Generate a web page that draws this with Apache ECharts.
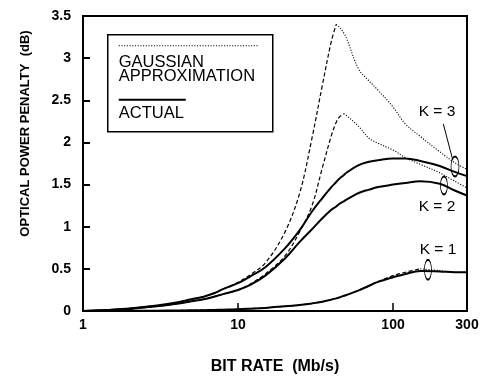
<!DOCTYPE html>
<html>
<head>
<meta charset="utf-8">
<script src="https://cdn.jsdelivr.net/npm/echarts@6/dist/echarts.min.js"></script>
<style>
  html, body { margin: 0; padding: 0; background: #fff; }
  #chart { width: 487px; height: 380px; }
</style>
</head>
<body>
<div id="chart"></div>
<script>
// Bit rate samples (Mb/s), shared by every curve
const bitRate = [1, 1.5, 2, 3, 4, 5, 6, 7, 8, 10, 12, 15, 20, 25, 30, 35, 40, 43, 45, 48, 50, 60, 70, 80, 100, 120, 150, 200, 250, 300];

// Optical power penalty (dB), Gaussian approximation
const gaussK3 = [0, 0.015, 0.03, 0.065, 0.10, 0.14, 0.17, 0.21, 0.26, 0.34, 0.43, 0.57, 0.93, 1.40, 2.05, 2.68, 3.20, 3.40, 3.37, 3.30, 3.24, 2.87, 2.73, 2.62, 2.42, 2.22, 2.07, 1.89, 1.76, 1.68];
const gaussK2 = [0, 0.012, 0.025, 0.055, 0.085, 0.115, 0.14, 0.17, 0.20, 0.25, 0.32, 0.44, 0.65, 0.94, 1.25, 1.70, 2.08, 2.24, 2.30, 2.34, 2.32, 2.19, 2.05, 1.99, 1.91, 1.82, 1.74, 1.64, 1.54, 1.46];
const gaussK1 = [0, 0.001, 0.002, 0.004, 0.006, 0.008, 0.010, 0.012, 0.015, 0.020, 0.027, 0.037, 0.055, 0.072, 0.09, 0.11, 0.135, 0.15, 0.16, 0.18, 0.19, 0.245, 0.30, 0.35, 0.42, 0.46, 0.50, 0.48, 0.46, 0.46];

// Optical power penalty (dB), actual
const actualK3 = [0, 0.015, 0.03, 0.065, 0.10, 0.14, 0.17, 0.21, 0.26, 0.33, 0.41, 0.52, 0.74, 0.96, 1.18, 1.34, 1.47, 1.53, 1.57, 1.61, 1.64, 1.73, 1.77, 1.79, 1.81, 1.81, 1.78, 1.72, 1.65, 1.60];
const actualK2 = [0, 0.012, 0.025, 0.055, 0.085, 0.115, 0.14, 0.17, 0.20, 0.25, 0.31, 0.42, 0.62, 0.82, 0.97, 1.10, 1.20, 1.24, 1.27, 1.30, 1.32, 1.40, 1.44, 1.47, 1.50, 1.52, 1.54, 1.51, 1.43, 1.37];
const actualK1 = [0, 0.001, 0.002, 0.004, 0.006, 0.008, 0.010, 0.012, 0.015, 0.020, 0.027, 0.037, 0.055, 0.072, 0.09, 0.11, 0.135, 0.15, 0.16, 0.18, 0.19, 0.245, 0.30, 0.345, 0.40, 0.44, 0.475, 0.47, 0.46, 0.46];

// Axis ticks
const yTicks = [0, 0.5, 1, 1.5, 2, 2.5, 3, 3.5];
const xMin = 1, xMax = 300;

// Curve group annotations: [bit rate, penalty]
const groupLabels = [
  { text: 'K = 3', at: [192, 2.37] },
  { text: 'K = 2', at: [192, 1.233] },
  { text: 'K = 1', at: [195, 0.728] }
];
const groupRings = [
  { at: [251, 1.715], size: [8, 20] },
  { at: [213, 1.49], size: [7, 18] },
  { at: [168, 0.49], size: [7, 20] }
];
const k3Leader = [[211, 2.22], [243, 1.79]];

const BLACK = '#000';
const pairs = vals => bitRate.map((x, i) => [x, vals[i]]);

function actualSeries(vals) {
  return {
    type: 'line', data: pairs(vals), smooth: 0.4, showSymbol: false, silent: true,
    lineStyle: { color: BLACK, width: 2 }, z: 3
  };
}

// Gaussian curves: dashed on the rising side, dotted after the peak
function gaussSeries(vals) {
  const pts = pairs(vals);
  const peak = vals.indexOf(Math.max(...vals));
  return [
    { type: 'line', data: pts.slice(0, peak + 1), smooth: 0.35, showSymbol: false, silent: true,
      lineStyle: { color: BLACK, width: 1.2, type: [4, 2.5] }, z: 2 },
    { type: 'line', data: pts.slice(peak), smooth: 0.35, showSymbol: false, silent: true,
      lineStyle: { color: BLACK, width: 1.1, type: [1.1, 1.6] }, z: 2 }
  ];
}

const annotations = {
  type: 'line', data: [], silent: true, z: 4,
  markPoint: {
    silent: true,
    data: groupRings.map(r => ({
      coord: r.at, symbol: 'circle', symbolSize: r.size,
      itemStyle: { color: 'rgba(0,0,0,0)', borderColor: BLACK, borderWidth: 1.2 },
      label: { show: false }
    })).concat(groupLabels.map(l => ({
      coord: l.at, symbol: 'circle', symbolSize: 0,
      label: { show: true, position: 'inside', formatter: l.text, color: BLACK,
               fontFamily: 'Liberation Sans, Arial, sans-serif', fontSize: 15.5 }
    })))
  },
  markLine: {
    silent: true, symbol: 'none',
    lineStyle: { color: BLACK, width: 1, type: 'solid' },
    label: { show: false },
    data: [[{ coord: k3Leader[0] }, { coord: k3Leader[1] }]]
  }
};

const labelFont = { fontFamily: 'Liberation Sans, Arial, sans-serif', fontWeight: 'bold', color: BLACK };

const chart = echarts.init(document.getElementById('chart'), null, { renderer: 'canvas' });
chart.setOption({
  animation: false,
  backgroundColor: '#fff',
  grid: { left: 83, right: 20, top: 16, bottom: 66, show: true, borderColor: BLACK, borderWidth: 2, backgroundColor: 'rgba(0,0,0,0)' },
  xAxis: {
    type: 'log', logBase: 10, min: xMin, max: xMax,
    name: 'BIT RATE  (Mb/s)', nameLocation: 'middle', nameGap: 48,
    nameTextStyle: Object.assign({ fontSize: 16 }, labelFont),
    axisLine: { lineStyle: { color: BLACK, width: 2 } },
    axisTick: { inside: true, length: 8, lineStyle: { color: BLACK, width: 1.5 } },
    minorTick: { show: false },
    splitLine: { show: false },
    axisLabel: Object.assign({ fontSize: 14, margin: 7, showMinLabel: true, showMaxLabel: true,
      formatter: v => String(Math.round(v)) }, labelFont)
  },
  yAxis: {
    type: 'value', min: yTicks[0], max: yTicks[yTicks.length - 1], interval: yTicks[1] - yTicks[0],
    name: 'OPTICAL POWER PENALTY  (dB)', nameLocation: 'middle', nameGap: 51, nameRotate: 90,
    // left padding lifts the rotated title above the axis midpoint
    nameTextStyle: Object.assign({ fontSize: 13, padding: [0, 0, 0, 60] }, labelFont),
    axisLine: { show: true, lineStyle: { color: BLACK, width: 2 } },
    axisTick: { show: true, inside: true, length: 7, lineStyle: { color: BLACK, width: 2 } },
    splitLine: { show: false },
    axisLabel: Object.assign({ fontSize: 14, margin: 12, formatter: v => String(v) }, labelFont)
  },
  series: [
    ...gaussSeries(gaussK3), ...gaussSeries(gaussK2), ...gaussSeries(gaussK1),
    actualSeries(actualK3), actualSeries(actualK2), actualSeries(actualK1),
    annotations
  ],
  graphic: [{
    type: 'group', left: 107, top: 34, z: 10,
    children: [
      { type: 'rect', shape: { x: 0, y: 0, width: 165, height: 97 },
        style: { fill: '#fff', stroke: BLACK, lineWidth: 1.5 } },
      { type: 'line', shape: { x1: 11, y1: 11, x2: 150, y2: 11 },
        style: { stroke: BLACK, lineWidth: 1.1, lineDash: [1.1, 1.6] } },
      { type: 'text', x: 11, y: 21,
        style: { text: 'GAUSSIAN\nAPPROXIMATION', fill: BLACK, fontSize: 16.5, lineHeight: 13.5,
                 fontFamily: 'Liberation Sans, Arial, sans-serif' } },
      { type: 'line', shape: { x1: 11, y1: 65, x2: 78, y2: 65 },
        style: { stroke: BLACK, lineWidth: 2 } },
      { type: 'text', x: 11, y: 70,
        style: { text: 'ACTUAL', fill: BLACK, fontSize: 16.5,
                 fontFamily: 'Liberation Sans, Arial, sans-serif' } }
    ]
  }]
});
</script>
</body>
</html>
